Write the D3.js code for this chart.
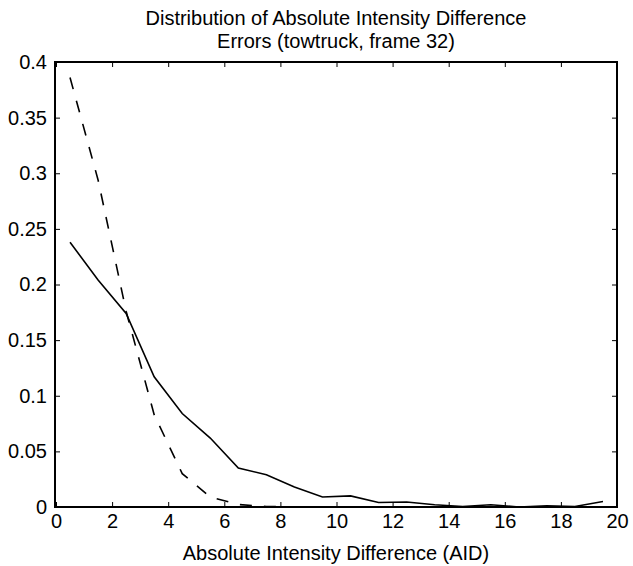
<!DOCTYPE html>
<meta charset="utf-8">
<style type="text/css">
body { margin: 0; background: #fff; }
svg { font-family: "Liberation Sans", Arial, sans-serif; }
.axis path, .axis line { stroke: #000; }
.axis text { font-size: 20px; fill: #000; font-family: "Liberation Sans", Arial, sans-serif; }
.frame { fill: none; stroke: #000; stroke-width: 2; }
.solid { fill: none; stroke: #000; stroke-width: 1.6; }
.dashed { fill: none; stroke: #000; stroke-width: 1.6; stroke-dasharray: 12,12; }
</style>
<svg width="633" height="566"></svg>
<script src="https://cdn.jsdelivr.net/npm/d3@7"></script>
<script>

// bin centres and the two distributions
var bins = [0.5,1.5,2.5,3.5,4.5,5.5,6.5,7.5,8.5,9.5,10.5,11.5,12.5,13.5,14.5,15.5,16.5,17.5,18.5,19.5];
var solidVals = [0.238,0.204,0.174,0.117,0.084,0.062,0.035,0.029,0.018,0.009,0.010,0.004,0.0045,0.002,0.0005,0.002,0.0,0.001,0.0005,0.005];
var dashedVals = [0.386,0.294,0.176,0.083,0.030,0.009,0.0022,0.0005,0,0,0,0,0,0,0,0,0,0,0,0];

var xTicks = [0,2,4,6,8,10,12,14,16,18,20];
var yTicks = [0,0.05,0.1,0.15,0.2,0.25,0.3,0.35,0.4];

var titleLines = ["Distribution of Absolute Intensity Difference", "Errors (towtruck, frame 32)"];
var xLabel = "Absolute Intensity Difference (AID)";

var svg = d3.select("svg"),
    pLeft = 55, pRight = 617, pTop = 62, pBottom = 507;

var x = d3.scaleLinear().domain([0, 20]).range([pLeft + 1, pRight]);
var y = d3.scaleLinear().domain([0, 0.4]).range([pBottom, pTop]);

var fmt = function(d){ return String(+d.toFixed(2)); };

// bottom axis
svg.append("g").attr("class", "axis")
   .attr("transform", "translate(0," + pBottom + ")")
   .call(d3.axisBottom(x).tickValues(xTicks).tickSize(-5).tickPadding(7).tickFormat(d3.format("d")))
   .call(function(g){ g.select(".domain").remove(); });

// top ticks
svg.append("g").attr("class", "axis")
   .attr("transform", "translate(0," + pTop + ")")
   .call(d3.axisTop(x).tickValues(xTicks).tickSize(-5).tickFormat(""))
   .call(function(g){ g.select(".domain").remove(); });

// left axis
svg.append("g").attr("class", "axis")
   .attr("transform", "translate(" + pLeft + ",0)")
   .call(d3.axisLeft(y).tickValues(yTicks).tickSize(-5).tickPadding(8).tickFormat(fmt))
   .call(function(g){ g.select(".domain").remove(); });

// right ticks
svg.append("g").attr("class", "axis")
   .attr("transform", "translate(" + pRight + ",0)")
   .call(d3.axisRight(y).tickValues(yTicks).tickSize(-5).tickFormat(""))
   .call(function(g){ g.select(".domain").remove(); });

svg.append("rect").attr("class", "frame")
   .attr("x", pLeft).attr("y", pTop)
   .attr("width", pRight - pLeft).attr("height", pBottom - pTop);

var line = d3.line()
    .x(function(d){ return x(d[0]); })
    .y(function(d){ return y(d[1]); });

svg.append("path").attr("class", "dashed")
   .attr("d", line(d3.zip(bins, dashedVals)));

svg.append("path").attr("class", "solid")
   .attr("d", line(d3.zip(bins, solidVals)));

// title
svg.append("g").selectAll("text")
   .data(titleLines).enter().append("text")
   .attr("x", (pLeft + pRight) / 2)
   .attr("y", function(d, i){ return 25 + i * 23; })
   .attr("text-anchor", "middle")
   .style("font-size", "20px")
   .text(function(d){ return d; });

svg.append("text")
   .attr("x", (pLeft + pRight) / 2)
   .attr("y", 560)
   .attr("text-anchor", "middle")
   .style("font-size", "20px")
   .text(xLabel);

</script>
